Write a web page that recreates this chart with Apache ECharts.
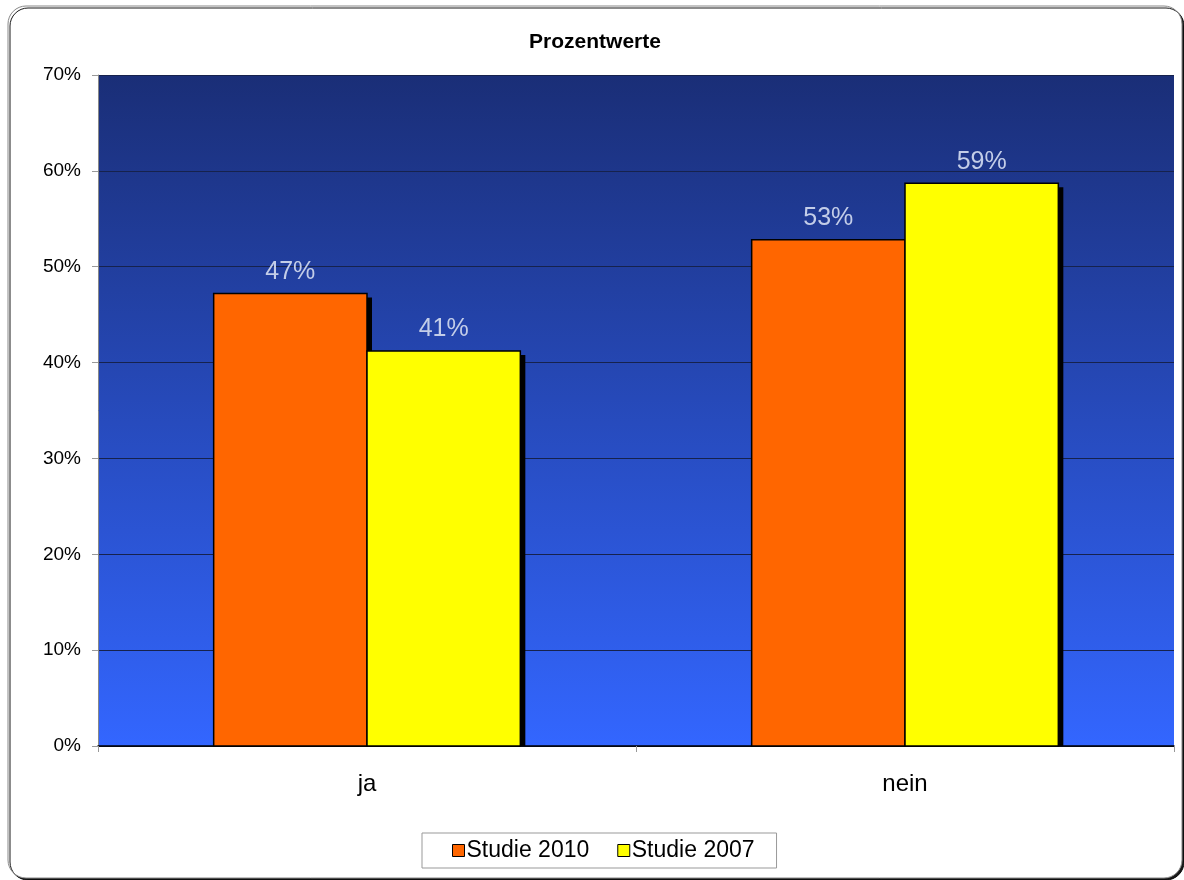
<!DOCTYPE html>
<html><head><meta charset="utf-8">
<script src="https://cdn.jsdelivr.net/npm/echarts@6/dist/echarts.min.js"></script>
<style>html,body{margin:0;padding:0;background:#fff}#c{width:1184px;height:880px}</style>
</head><body><div id="c"></div>
<script>
const categories = ['ja', 'nein'];
const seriesNames = ['Studie 2010', 'Studie 2007'];
const studie2010 = [0.472, 0.528];
const studie2007 = [0.412, 0.587];
const yTicks = [0, 0.1, 0.2, 0.3, 0.4, 0.5, 0.6, 0.7];

const chart = echarts.init(document.getElementById('c'), null, {renderer: 'canvas'});
const font = 'Liberation Sans, Arial, sans-serif';
const colors = ['#ff6600', '#ffff00'];
const groupFrac = 0.57;

function customBar(name, data, idx) {
  return {
    name: name, type: 'custom',
    itemStyle: {color: colors[idx], borderColor: '#000', borderWidth: 1},
    data: data.map((v, i) => [i, v]),
    encode: {x: 0, y: 1},
    renderItem: function (params, api) {
      const ci = api.value(0), v = api.value(1);
      const top = api.coord([ci, v]);
      const base = api.coord([ci, 0]);
      const catW = api.size([1, 0])[0];
      const bw = catW * groupFrac / 2;
      const x0 = top[0] - catW * groupFrac / 2 + idx * bw;
      const h = base[1] - top[1];
      return {
        type: 'group',
        children: [
          {type: 'rect', shape: {x: x0 + 5, y: top[1] + 4, width: bw, height: h - 4}, style: {fill: '#000'}},
          {type: 'rect', shape: {x: x0, y: top[1], width: bw, height: h},
            style: {fill: colors[idx], stroke: '#000', lineWidth: 1.5}},
          {type: 'text', x: x0 + bw / 2, y: top[1] - 9,
            style: {text: Math.round(v * 100) + '%', fill: '#c3cde8', font: '25px ' + font,
              align: 'center', verticalAlign: 'bottom'}}
        ]
      };
    }
  };
}
chart.setOption({
  animation: false,
  graphic: [{
    type: 'rect', z: -10, silent: true,
    shape: {x: 8, y: 6, width: 1174, height: 872, r: 18},
    style: {fill: '#fff', stroke: '#888', lineWidth: 1, shadowColor: 'rgba(0,0,0,0.9)', shadowOffsetX: 2, shadowOffsetY: 2, shadowBlur: 0}
  }],
  title: {text: 'Prozentwerte', left: 590, textAlign: 'center', top: 27,
    textStyle: {fontFamily: font, fontSize: 21, fontWeight: 'bold', color: '#000'}},
  grid: {left: 98, right: 10, top: 75, bottom: 134, containLabel: false, show: true,
    backgroundColor: new echarts.graphic.LinearGradient(0, 0, 0, 1, [
      {offset: 0, color: '#1a2e77'}, {offset: 1, color: '#3366ff'}]),
    borderWidth: 0},
  legend: {bottom: 12, left: 422, itemWidth: 12, itemHeight: 12, itemGap: 28,
    padding: [6, 22, 6, 30],
    borderColor: '#999', borderWidth: 1, icon: 'rect',
    textStyle: {fontFamily: font, fontSize: 23, color: '#000', padding: [0, 0, 0, -3]},
    data: seriesNames.map((n, i) => ({name: n, itemStyle: {color: colors[i], borderColor: '#000', borderWidth: 1}}))},
  xAxis: {type: 'category', data: categories,
    axisLine: {lineStyle: {color: '#000', width: 1.5}},
    axisTick: {show: true, length: 6, lineStyle: {color: '#999'}},
    axisLabel: {fontFamily: font, fontSize: 24, color: '#000', margin: 26}},
  yAxis: {type: 'value', min: 0, max: 0.7, interval: 0.1,
    axisLine: {show: true, lineStyle: {color: '#888'}},
    axisTick: {show: true, length: 6, lineStyle: {color: '#999'}},
    splitLine: {lineStyle: {color: '#16224d', width: 1}},
    axisLabel: {fontFamily: font, fontSize: 19, color: '#000', margin: 17,
      formatter: v => Math.round(v * 100) + '%'}},
  series: [customBar(seriesNames[0], studie2010, 0), customBar(seriesNames[1], studie2007, 1)]
});
</script></body></html>
